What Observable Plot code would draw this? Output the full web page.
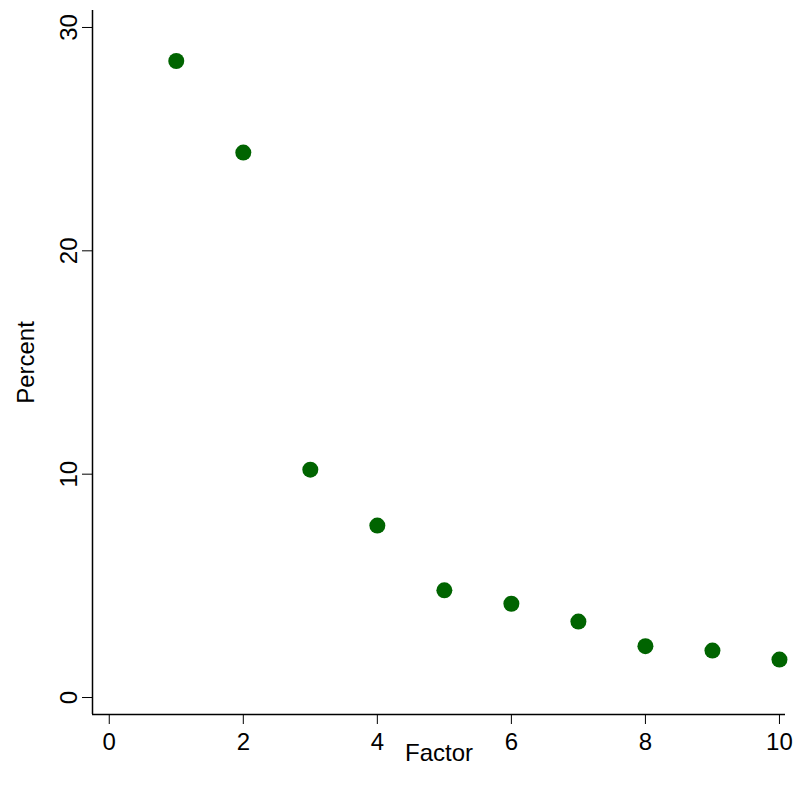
<!DOCTYPE html>
<html><head>
<script src="https://cdn.jsdelivr.net/npm/d3@7"></script>
<script src="https://cdn.jsdelivr.net/npm/@observablehq/plot@0.6"></script>
<style>body{margin:0;background:#fff} svg g[aria-label$="tick label"] text{font-size:24px}</style>
</head><body><div id="chart"></div>
<script>
const factors = [1, 2, 3, 4, 5, 6, 7, 8, 9, 10];
const percents = [28.5, 24.4, 10.2, 7.7, 4.8, 4.2, 3.4, 2.3, 2.1, 1.7];
const xTicks = [0, 2, 4, 6, 8, 10];
const yTicks = [0, 10, 20, 30];

const data = factors.map((f, i) => ({ factor: f, percent: percents[i] }));
const xDom = [-0.25, 10.09], yDom = [-0.76, 30.76];

const chart = Plot.plot({
  width: 801, height: 800,
  marginLeft: 92, marginRight: 16, marginTop: 10, marginBottom: 86,
  style: { fontFamily: "Arial, 'Liberation Sans', sans-serif", fontSize: "24px", color: "#000" },
  x: { domain: xDom },
  y: { domain: yDom },
  marks: [
    Plot.ruleX([xDom[0]], { y1: yDom[0], y2: yDom[1], stroke: "black", strokeWidth: 1.5 }),
    Plot.ruleY([yDom[0]], { x1: xDom[0], x2: xDom[1], stroke: "black", strokeWidth: 1.5 }),
    Plot.axisX({ ticks: xTicks, tickSize: 10, tickPadding: 8, fontSize: 24, label: "Factor", labelAnchor: "center", labelOffset: 46, labelArrow: "none" }),
    Plot.axisY({ ticks: yTicks, tickSize: 10, tickPadding: 6, fontSize: 24, tickRotate: -90, label: "Percent", labelAnchor: "center", labelOffset: 76, labelArrow: "none" }),
    Plot.dot(data, { x: "factor", y: "percent", r: 8, fill: "#006400", stroke: "none" })
  ]
});
document.getElementById("chart").append(chart);
</script>
</body></html>
